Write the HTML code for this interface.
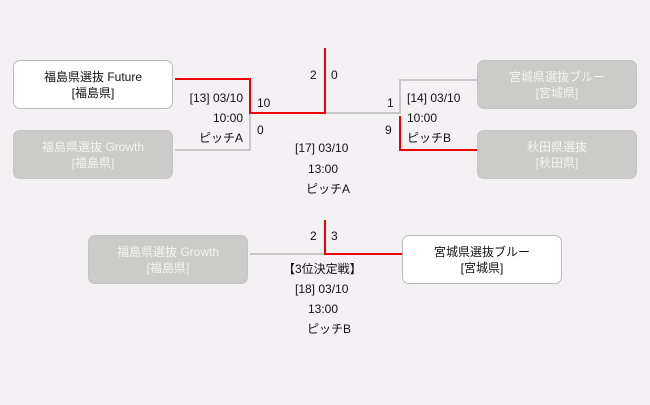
<!DOCTYPE html><html><head><style>
body{margin:0;width:650px;height:405px;background:#f3f1f4;font-family:"Liberation Sans","Noto Sans CJK JP",sans-serif;font-size:12px;color:#111;position:relative;overflow:hidden}
.b{position:absolute;width:160px;height:49px;border-radius:7px;box-sizing:border-box;text-align:center;font-size:12px;line-height:16px;padding-top:8px}
.w{background:#fff;border:1px solid #bbb}
.g{background:#cbcbc9;color:#f4f4f4;border:1px solid #c4c4c2}
.t{position:absolute;line-height:16px;white-space:nowrap}
.r{position:absolute;line-height:16px;white-space:nowrap;right:407px;text-align:right}
.l{position:absolute}
</style></head><body>
<div class="b w" style="left:13px;top:60px">福島県選抜 Future<br>[福島県]</div>
<div class="b g" style="left:13px;top:130px">福島県選抜 Growth<br>[福島県]</div>
<div class="b g" style="left:477px;top:60px">宮城県選抜ブルー<br>[宮城県]</div>
<div class="b g" style="left:477px;top:130px">秋田県選抜<br>[秋田県]</div>
<div class="b g" style="left:88px;top:235px">福島県選抜 Growth<br>[福島県]</div>
<div class="b w" style="left:402px;top:235px">宮城県選抜ブルー<br>[宮城県]</div>
<svg class="l" style="left:0;top:0" width="650" height="405">
<g fill="none" stroke-width="2">
<path d="M175 150H250V114" stroke="#c8c8c6"/>
<path d="M325 113H400V80H477" stroke="#c8c8c6"/>
<path d="M250 254H325" stroke="#c8c8c6"/>
<path d="M175 79H250V113H325V48" stroke="#e00"/>
<path d="M400 116V150H477" stroke="#e00"/>
<path d="M325 220V254H402" stroke="#e00"/>
</g></svg>
<div class="r" style="top:90px">[13] 03/10</div>
<div class="r" style="top:110px">10:00</div>
<div class="r" style="top:130px">ピッチA</div>
<div class="t" style="left:257px;top:95px">10</div>
<div class="t" style="left:257px;top:122px">0</div>
<div class="t" style="left:310px;top:67px">2</div>
<div class="t" style="left:331px;top:67px">0</div>
<div class="t" style="left:387px;top:95px">1</div>
<div class="t" style="left:385px;top:122px">9</div>
<div class="t" style="left:407px;top:90px">[14] 03/10</div>
<div class="t" style="left:407px;top:110px">10:00</div>
<div class="t" style="left:407px;top:130px">ピッチB</div>
<div class="t" style="left:295px;top:140px">[17] 03/10</div>
<div class="t" style="left:308px;top:161px">13:00</div>
<div class="t" style="left:306px;top:181px">ピッチA</div>
<div class="t" style="left:310px;top:228px">2</div>
<div class="t" style="left:331px;top:228px">3</div>
<div class="t" style="left:283px;top:261px">【3位決定戦】</div>
<div class="t" style="left:295px;top:281px">[18] 03/10</div>
<div class="t" style="left:308px;top:301px">13:00</div>
<div class="t" style="left:307px;top:321px">ピッチB</div>
</body></html>
